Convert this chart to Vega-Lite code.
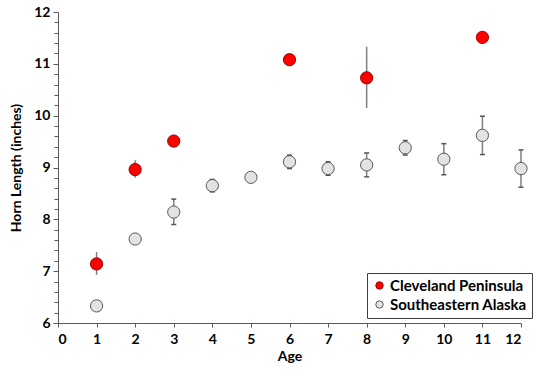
{
  "$schema": "https://vega.github.io/schema/vega-lite/v6.json",
  "autosize": "none",
  "width": 463,
  "height": 311,
  "padding": {"left": 58, "top": 12, "right": 28, "bottom": 53},
  "background": "white",
  "config": {
    "view": {"stroke": null},
    "font": "Lato",
    "axis": {
      "labelFont": "Lato", "labelFontWeight": "bold", "labelFontSize": 14, "labelColor": "#000",
      "titleFont": "Lato", "titleFontWeight": "bold", "titleFontSize": 14, "titleColor": "#000",
      "domainColor": "#595959", "tickColor": "#595959", "grid": false, "domainWidth": 1, "tickWidth": 1
    }
  },
  "data": {"values": [
    {"site": "Cleveland Peninsula", "age": 1, "mean": 7.14, "lo": 6.93, "hi": 7.37},
    {"site": "Cleveland Peninsula", "age": 2, "mean": 8.96, "lo": 8.80, "hi": 9.14},
    {"site": "Cleveland Peninsula", "age": 3, "mean": 9.51, "lo": 9.45, "hi": 9.57},
    {"site": "Cleveland Peninsula", "age": 6, "mean": 11.08, "lo": 11.03, "hi": 11.13},
    {"site": "Cleveland Peninsula", "age": 8, "mean": 10.73, "lo": 10.15, "hi": 11.33},
    {"site": "Cleveland Peninsula", "age": 11, "mean": 11.51, "lo": 11.46, "hi": 11.56},
    {"site": "Southeastern Alaska", "age": 1, "mean": 6.33, "lo": 6.28, "hi": 6.38},
    {"site": "Southeastern Alaska", "age": 2, "mean": 7.62, "lo": 7.57, "hi": 7.67},
    {"site": "Southeastern Alaska", "age": 3, "mean": 8.14, "lo": 7.90, "hi": 8.39},
    {"site": "Southeastern Alaska", "age": 4, "mean": 8.65, "lo": 8.53, "hi": 8.77},
    {"site": "Southeastern Alaska", "age": 5, "mean": 8.81, "lo": 8.76, "hi": 8.86},
    {"site": "Southeastern Alaska", "age": 6, "mean": 9.11, "lo": 8.98, "hi": 9.24},
    {"site": "Southeastern Alaska", "age": 7, "mean": 8.98, "lo": 8.85, "hi": 9.11},
    {"site": "Southeastern Alaska", "age": 8, "mean": 9.05, "lo": 8.82, "hi": 9.28},
    {"site": "Southeastern Alaska", "age": 9, "mean": 9.38, "lo": 9.24, "hi": 9.52},
    {"site": "Southeastern Alaska", "age": 10, "mean": 9.16, "lo": 8.86, "hi": 9.46},
    {"site": "Southeastern Alaska", "age": 11, "mean": 9.62, "lo": 9.25, "hi": 9.99},
    {"site": "Southeastern Alaska", "age": 12, "mean": 8.98, "lo": 8.62, "hi": 9.34}
  ]},
  "encoding": {
    "x": {
      "field": "age", "type": "quantitative",
      "scale": {"domain": [0, 12], "nice": false, "zero": false},
      "axis": {"title": "Age", "values": [0,1,2,3,4,5,6,7,8,9,10,11,12], "tickSize": 4, "labelPadding": 5, "titlePadding": 3}
    }
  },
  "resolve": {"axis": {"y": "independent"}},
  "layer": [
    {
      "mark": {"type": "rule", "color": "#7f7f7f", "strokeWidth": 1.5},
      "encoding": {
        "y": {"field": "lo", "type": "quantitative", "scale": {"domain": [6, 12], "nice": false, "zero": false},
          "axis": {
            "orient": "left", "title": null, "labels": false, "domain": false, "tickSize": 4,
            "values": [6.2,6.4,6.6,6.8,7.2,7.4,7.6,7.8,8.2,8.4,8.6,8.8,9.2,9.4,9.6,9.8,10.2,10.4,10.6,10.8,11.2,11.4,11.6,11.8]
          }},
        "y2": {"field": "hi"}
      }
    },
    {
      "transform": [{"filter": "datum.site === 'Southeastern Alaska'"}],
      "mark": {"type": "tick", "orient": "horizontal", "color": "#555555", "size": 5, "thickness": 1.5, "opacity": 1},
      "encoding": {"y": {"field": "lo", "type": "quantitative", "axis": null}}
    },
    {
      "transform": [{"filter": "datum.site === 'Southeastern Alaska'"}],
      "mark": {"type": "tick", "orient": "horizontal", "color": "#555555", "size": 5, "thickness": 1.5, "opacity": 1},
      "encoding": {"y": {"field": "hi", "type": "quantitative", "axis": null}}
    },
    {
      "mark": {"type": "circle", "size": 150, "opacity": 1, "strokeWidth": 1},
      "encoding": {
        "y": {"field": "mean", "type": "quantitative",
          "axis": {"orient": "left", "title": "Horn Length (inches)", "values": [6,7,8,9,10,11,12], "tickSize": 5, "labelPadding": 3, "titlePadding": 10}},
        "fill": {"field": "site", "type": "nominal",
          "scale": {"domain": ["Cleveland Peninsula", "Southeastern Alaska"], "range": ["#ff0000", "#e3e3e3"]},
          "legend": {
            "title": null, "orient": "none", "legendX": 309, "legendY": 261,
            "strokeColor": "#404040", "padding": 5, "rowPadding": 3,
            "labelFont": "Lato", "labelFontWeight": "bold", "labelFontSize": 15, "labelColor": "#000",
            "symbolSize": 55, "symbolStrokeWidth": 1, "labelOffset": 3
          }},
        "stroke": {"field": "site", "type": "nominal",
          "scale": {"domain": ["Cleveland Peninsula", "Southeastern Alaska"], "range": ["#a00000", "#595959"]}}
      }
    }
  ]
}
